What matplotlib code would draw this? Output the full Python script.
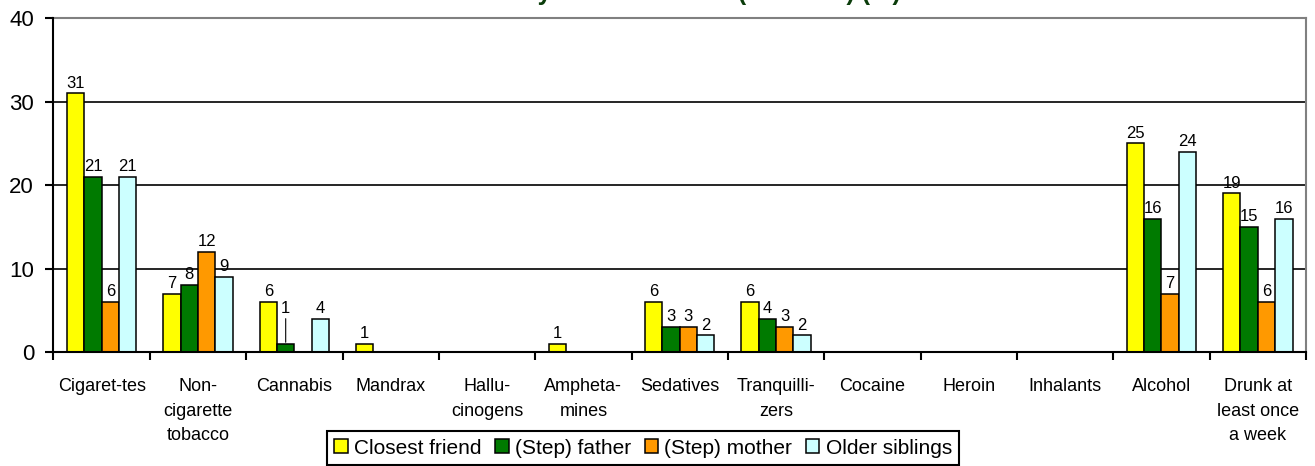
import matplotlib
matplotlib.use("Agg")
import matplotlib.pyplot as plt
import numpy as np

plt.rcParams["font.family"] = ["Liberation Sans", "DejaVu Sans"]

# categories along the x axis
categories = ["Cigaret-tes", "Non-\ncigarette\ntobacco", "Cannabis", "Mandrax",
              "Hallu-\ncinogens", "Ampheta-\nmines", "Sedatives", "Tranquilli-\nzers",
              "Cocaine", "Heroin", "Inhalants", "Alcohol", "Drunk at\nleast once\na week"]

# percentages per group
closest_friend = [31, 7, 6, 1, 0, 1, 6, 6, 0, 0, 0, 25, 19]
step_father = [21, 8, 1, 0, 0, 0, 3, 4, 0, 0, 0, 16, 15]
step_mother = [6, 12, 0, 0, 0, 0, 3, 3, 0, 0, 0, 7, 6]
older_siblings = [21, 9, 4, 0, 0, 0, 2, 2, 0, 0, 0, 24, 16]

series_names = ["Closest friend", "(Step) father", "(Step) mother", "Older siblings"]
series_values = [closest_friend, step_father, step_mother, older_siblings]
colors = ["#FFFF00", "#007A00", "#FF9900", "#CCFFFF"]

fig = plt.figure(figsize=(13.15, 4.66), dpi=100)
ax = fig.add_axes([53.5 / 1315, 1 - 352 / 466, (1306 - 53.5) / 1315, (352 - 18.3) / 466])

x = np.arange(len(categories)) + 0.5
w = 0.18
handles = []
for k, (name, vals, col) in enumerate(zip(series_names, series_values, colors)):
    pos = x + (k - 1.5) * w
    b = ax.bar(pos, vals, width=w, color=col, edgecolor="black", linewidth=1.1,
               label=name, zorder=3)
    handles.append(b)
    for px, v, cat in zip(pos, vals, categories):
        if v == 0:
            continue
        if name == "(Step) father" and cat == "Cannabis":
            # label moved up with a leader line
            ax.annotate(str(v), xy=(px, v), xytext=(0, 20), textcoords="offset points",
                        ha="center", va="bottom", fontsize=12,
                        arrowprops=dict(arrowstyle="-", color="black", lw=0.8,
                                        shrinkA=0, shrinkB=1))
        else:
            ax.annotate(str(v), xy=(px, v), xytext=(0, 2), textcoords="offset points",
                        ha="center", va="bottom", fontsize=12)

ax.set_xlim(0, len(categories))
ax.set_ylim(0, 40)
ax.set_yticks([0, 10, 20, 30, 40])
ax.set_xticks(x)
ax.set_xticklabels(categories, fontsize=13, linespacing=1.55, va="top")
ax.set_xticks(np.arange(len(categories) + 1), minor=True)
ax.tick_params(axis="x", which="major", length=0, pad=19)
ax.tick_params(axis="x", which="minor", length=6, width=1.5, direction="out")
ax.tick_params(axis="y", length=6, width=1.5, direction="out", labelsize=16, pad=8)

for yv in [10, 20, 30]:
    ax.axhline(yv, color="black", lw=1.2, zorder=1)

ax.spines["left"].set_linewidth(1.5)
ax.spines["bottom"].set_linewidth(1.5)
ax.spines["left"].set_zorder(4)
ax.spines["bottom"].set_zorder(4)
ax.spines["top"].set_color("#808080")
ax.spines["right"].set_color("#808080")
ax.spines["top"].set_linewidth(1.5)
ax.spines["right"].set_linewidth(1.5)

leg = fig.legend(handles=handles, labels=series_names, loc="center",
                 bbox_to_anchor=(643 / 1315, 1 - 448 / 466), ncol=4, fontsize=15,
                 frameon=True, fancybox=False, edgecolor="black", framealpha=1,
                 handlelength=0.65, handleheight=0.65, handletextpad=0.3,
                 columnspacing=0.65, borderpad=0.35, borderaxespad=0)
leg.get_frame().set_linewidth(1.5)

# title is mostly cut off at the top of the picture
fig.text(901 / 1315, 1.0, "Substance use by close relatives (Females) (%)",
         ha="right", va="baseline", fontsize=18, fontweight="bold", color="#0B3D0B")

fig.savefig("out.png", dpi=100)
